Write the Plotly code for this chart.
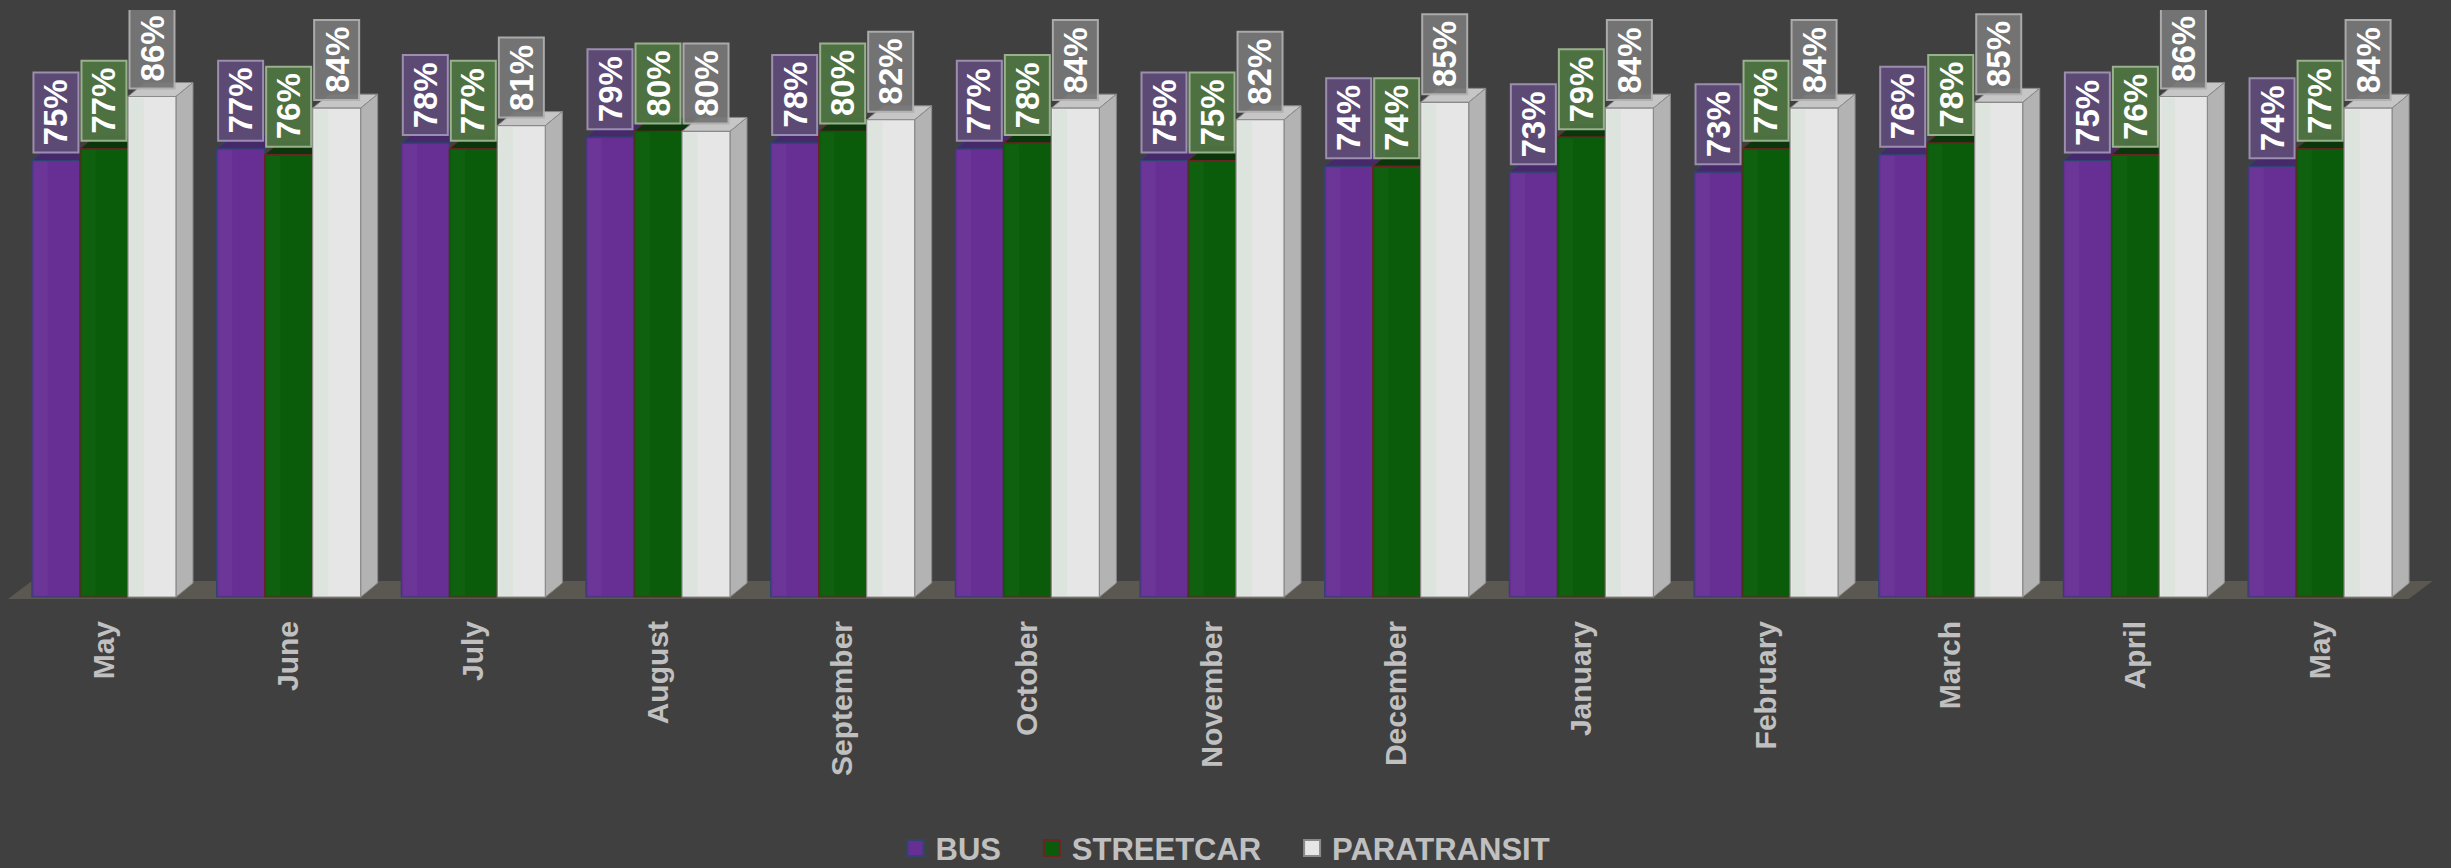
import plotly.graph_objects as go

months = ["May", "June", "July", "August", "September", "October", "November",
          "December", "January", "February", "March", "April", "May"]
bus = [75, 77, 78, 79, 78, 77, 75, 74, 73, 73, 76, 75, 74]
streetcar = [77, 76, 77, 80, 80, 78, 75, 74, 79, 77, 78, 76, 77]
paratransit = [86, 84, 81, 80, 82, 84, 82, 85, 84, 84, 85, 86, 84]

NB = "\u00a0"
series = [
    dict(name="BUS", pad=3, vals=bus, fill="#672f93", line="#2f4470", top="#45296a",
         strip="#6c3598", box="#5e4b77", boxline="#a193b5", off=-0.39),
    dict(name="STREETCAR", pad=3, vals=streetcar, fill="#0a5c0a", line="#6b2424", top="#0b360b",
         strip="#0f610f", box="#4f7442", boxline="#9fb893", off=-0.13),
    dict(name="PARATRANSIT", pad=0, vals=paratransit, fill="#e6e6e6", line="#8a8a8a", top="#c6c6c6",
         strip="#dde4dd", box="#767676", boxline="#b0b0b0", off=0.13),
]

BG = "#404040"
W = 0.26
DX = 0.092
DY = 2.4
STRIP = 0.085
xs = list(range(len(months)))

fig = go.Figure()
shapes = []
annotations = []

# floor
shapes.append(dict(type="path", xref="x", yref="y", layer="below",
                   path="M -0.52,-0.35 L 12.48,-0.35 L 12.61,2.75 L -0.39,2.75 Z",
                   fillcolor="#5a5850", line=dict(width=0)))

for s in series:
    for i, v in enumerate(s["vals"]):
        x0 = i + s["off"]
        x1 = x0 + W
        shapes.append(dict(type="path", xref="x", yref="y", layer="below",
                           path=f"M {x0},{v} L {x1},{v} L {x1+DX},{v+DY} L {x0+DX},{v+DY} Z",
                           fillcolor=s["top"], line=dict(color=s["line"], width=1)))
        if s["name"] == "PARATRANSIT":
            shapes.append(dict(type="path", xref="x", yref="y", layer="below",
                               path=f"M {x1},0 L {x1+DX},{DY} L {x1+DX},{v+DY} L {x1},{v} Z",
                               fillcolor="#b3b3b3", line=dict(color="#8a8a8a", width=1)))
    fig.add_trace(go.Bar(
        x=xs, y=s["vals"], width=W, offset=s["off"], name=s["name"],
        marker=dict(color=s["fill"], line=dict(color=s["line"], width=1.2)),
        showlegend=False, hoverinfo="skip"))
    fig.add_trace(go.Scatter(
        x=[None], y=[None], mode="markers", name=s["name"] + NB * s["pad"],
        marker=dict(symbol="square", size=16, color=s["fill"],
                    line=dict(color=s["line"], width=2))))

# lighter left strip on the front faces
for s in series:
    for i, v in enumerate(s["vals"]):
        x0 = i + s["off"]
        shapes.append(dict(type="rect", xref="x", yref="y", layer="above",
                           x0=x0 + 0.01, x1=x0 + STRIP, y0=0.2, y1=v - 0.2,
                           fillcolor=s["strip"], line=dict(width=0)))

for s in series:
    for i, v in enumerate(s["vals"]):
        c = i + s["off"] + W / 2
        shapes.append(dict(type="rect", xref="x", yref="y", layer="above",
                           xsizemode="pixel", ysizemode="pixel",
                           xanchor=c, yanchor=v, x0=-22.5, x1=22.5, y0=8, y1=88,
                           fillcolor=s["box"], opacity=0.95,
                           line=dict(color=s["boxline"], width=2)))
        annotations.append(dict(x=c, y=v, xref="x", yref="y", text=f"{v}%",
                                showarrow=False, textangle=-90, yshift=48,
                                xanchor="center", yanchor="middle",
                                font=dict(family="Liberation Sans", size=33,
                                          color="white", weight="bold")))

fig.update_layout(
    width=2451, height=868,
    paper_bgcolor=BG, plot_bgcolor=BG,
    margin=dict(l=0, r=0, t=10, b=268, autoexpand=False),
    barmode="overlay",
    shapes=shapes, annotations=annotations,
    showlegend=True,
    legend=dict(orientation="h", x=0.5, xanchor="center", y=-0.421, yanchor="middle",
                font=dict(family="Liberation Sans", size=31, color="#c0c0c0", weight="bold"),
                bgcolor="rgba(0,0,0,0)"),
    xaxis=dict(range=[-0.563, 12.709], tickmode="array", tickvals=xs, ticktext=months,
               tickangle=-90, showgrid=False, zeroline=False, showline=False, ticks="",
               ticklabelstandoff=14, automargin=False,
               tickfont=dict(family="Liberation Sans", size=30, color="#c0c0c0", weight="bold")),
    yaxis=dict(range=[-0.515, 100.86], visible=False, showgrid=False, zeroline=False,
               automargin=False),
)

fig.write_html("out.html", config={"displayModeBar": False},
               post_script="document.body.style.margin='0';document.body.style.background='#404040';")
